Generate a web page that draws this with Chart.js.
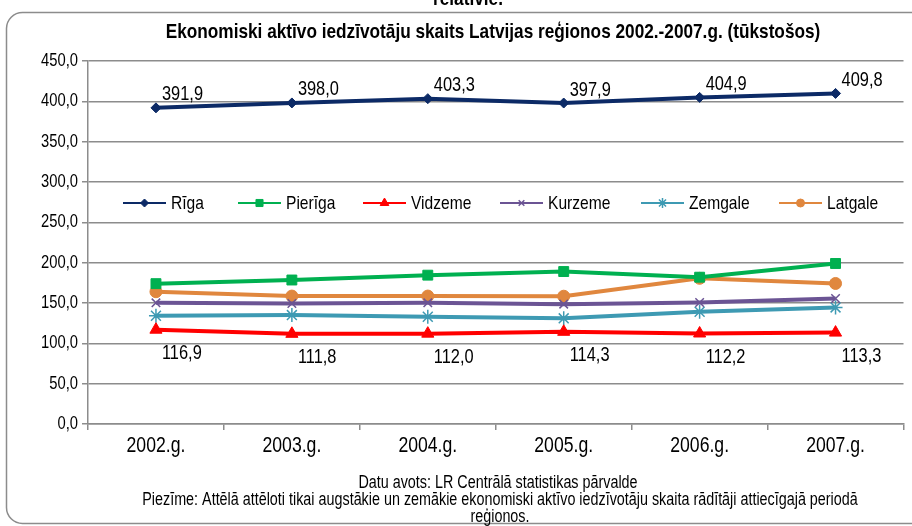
<!DOCTYPE html>
<html>
<head>
<meta charset="utf-8">
<script src="https://cdn.jsdelivr.net/npm/chart.js@4"></script>
<style>
  html, body { margin: 0; padding: 0; background: #fff; }
  #wrap { width: 912px; height: 526px; position: relative; }
</style>
</head>
<body>
<div id="wrap"><canvas id="chart" width="912" height="526"></canvas></div>
<script>
// dati (tūkstošos)
var years = ['2002.g.', '2003.g.', '2004.g.', '2005.g.', '2006.g.', '2007.g.'];
var riga = [391.9, 398.0, 403.3, 397.9, 404.9, 409.8];
var pieriga = [174.0, 178.5, 184.5, 189.0, 182.0, 199.0];
var vidzeme = [116.9, 111.8, 112.0, 114.3, 112.2, 113.3];
var kurzeme = [150.2, 149.4, 150.2, 148.6, 150.6, 155.6];
var zemgale = [134.2, 135.0, 133.0, 131.0, 139.2, 144.5];
var latgale = [164.0, 158.6, 158.6, 158.4, 180.6, 174.2];
var yTicks = [0, 50, 100, 150, 200, 250, 300, 350, 400, 450];

var FONT = '"Liberation Sans", Arial, sans-serif';
var SX = 0.82; // šaurais fonts (Arial Narrow imitācija)

function fmt(v) { return Number(v).toFixed(1).replace('.', ','); }

function narrow(c, text, x, y, align, font) {
    c.save();
    c.font = font;
    c.textAlign = align;
    c.textBaseline = 'middle';
    c.translate(x, y);
    c.scale(SX, 1);
    c.fillText(text, 0, 0);
    c.restore();
}

function ds(label, data, color, style, radius) {
    return {
        label: label,
        data: data,
        borderColor: color,
        backgroundColor: color,
        borderWidth: 4,
        pointStyle: style,
        pointRadius: radius,
        pointBorderWidth: style == 'crossRot' || style == 'star' ? 1.5 : 1,
        tension: 0
    };
}

var datasets = [
    ds('Rīga', riga, '#0c2a66', 'rectRot', 5),
    ds('Pierīga', pieriga, '#00b050', 'rect', 7),
    ds('Vidzeme', vidzeme, '#ff0000', 'triangle', 7),
    ds('Kurzeme', kurzeme, '#6b5494', 'crossRot', 6),
    ds('Zemgale', zemgale, '#3e9ab3', 'star', 7),
    ds('Latgale', latgale, '#e0873e', 'circle', 6)
];

// rāmis, virsraksts, ass teksti, leģenda, vērtības un piezīmes
var extras = {
    id: 'extras',
    beforeDraw: function(chart) {
        var c = chart.ctx;
        c.save();
        c.fillStyle = '#fff';
        c.fillRect(0, 0, chart.width, chart.height);
        c.strokeStyle = '#8c8c8c';
        c.lineWidth = 1.5;
        c.beginPath();
        c.roundRect(6.5, 12.5, 930, 511, 16);
        c.stroke();
        c.fillStyle = '#000';
        narrow(c, 'relatīvie.', 468, -1, 'center', 'bold 21px ' + FONT);
        c.restore();
    },
    afterDraw: function(chart) {
        var c = chart.ctx;
        var xs = chart.scales.x, ys = chart.scales.y;
        c.save();
        c.fillStyle = '#000';
        narrow(c, 'Ekonomiski aktīvo iedzīvotāju skaits Latvijas reģionos 2002.-2007.g. (tūkstošos)', 493, 32, 'center', 'bold 21px ' + FONT);

        // ass etiķetes
        yTicks.forEach(function(v) {
            narrow(c, fmt(v), 78, ys.getPixelForValue(v), 'right', '18px ' + FONT);
        });
        years.forEach(function(y, i) {
            narrow(c, y, xs.getPixelForValue(i), 446, 'center', '21.5px ' + FONT);
        });

        // leģenda
        var lx = [123, 238, 363, 500, 641, 779];
        var ly = 203;
        datasets.forEach(function(d, i) {
            c.strokeStyle = d.borderColor;
            c.lineWidth = 2;
            c.beginPath();
            c.moveTo(lx[i], ly);
            c.lineTo(lx[i] + 43, ly);
            c.stroke();
            c.fillStyle = d.backgroundColor;
            c.lineWidth = d.pointBorderWidth;
            Chart.helpers.drawPoint(c, {
                pointStyle: d.pointStyle,
                radius: Math.max(4, d.pointRadius - 2),
                rotation: 0,
                borderWidth: d.pointBorderWidth
            }, lx[i] + 21.5, ly);
            c.fillStyle = '#000';
            narrow(c, d.label, lx[i] + 48, ly + 1, 'left', '19px ' + FONT);
        });

        // vērtību etiķetes (Rīga un Vidzeme)
        [[0, -13], [2, 24]].forEach(function(p) {
            var meta = chart.getDatasetMeta(p[0]);
            var vals = datasets[p[0]].data;
            meta.data.forEach(function(pt, j) {
                narrow(c, fmt(vals[j]), pt.x + 6, pt.y + p[1], 'left', '20px ' + FONT);
            });
        });

        // piezīmes
        var nf = '17.5px ' + FONT;
        narrow(c, 'Datu avots: LR Centrālā statistikas pārvalde', 498, 483, 'center', nf);
        narrow(c, 'Piezīme: Attēlā attēloti tikai augstākie un zemākie ekonomiski aktīvo iedzīvotāju skaita rādītāji attiecīgajā periodā', 500, 500, 'center', nf);
        narrow(c, 'reģionos.', 500, 517, 'center', nf);
        c.restore();
    }
};

new Chart(document.getElementById('chart'), {
    type: 'line',
    data: { labels: years, datasets: datasets },
    plugins: [extras],
    options: {
        responsive: false,
        animation: false,
        layout: { padding: { top: 61, right: 4, left: 0, bottom: 0 } },
        plugins: {
            legend: { display: false },
            tooltip: { enabled: false }
        },
        scales: {
            x: {
                offset: true,
                grid: { offset: true, drawOnChartArea: false, color: '#8c8c8c', tickLength: 6, tickColor: '#8c8c8c', lineWidth: 1.5 },
                border: { color: '#8c8c8c', width: 1.5 },
                ticks: { display: false },
                afterFit: function(s) { s.height = 102; }
            },
            y: {
                min: 0,
                max: 450,
                afterBuildTicks: function(s) { s.ticks = yTicks.map(function(v) { return { value: v }; }); },
                grid: { color: '#8c8c8c', lineWidth: 1.5, tickLength: 6, tickColor: '#8c8c8c' },
                border: { color: '#8c8c8c', width: 1.5 },
                ticks: { display: false },
                afterFit: function(s) { s.width = 88; }
            }
        }
    }
});
</script>
</body>
</html>
